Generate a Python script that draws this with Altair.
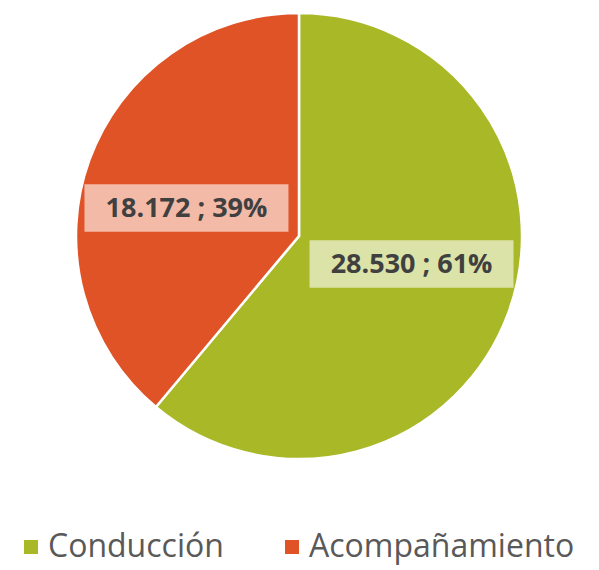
import math
import altair as alt
import pandas as pd

categories = ["Conducción", "Acompañamiento"]
values = [28530, 18172]
labels = ["28.530 ; 61%", "18.172 ; 39%"]
colors = ["#A8B827", "#E05327"]

total = sum(values)
rows = []
cum = 0
for cat, val, lab in zip(categories, values, labels):
    mid = (cum + val / 2) / total * 2 * math.pi - math.radians(6)
    cum += val
    rows.append({
        "cat": cat,
        "value": val,
        "label": lab,
        "order": len(rows),
        "lx": 0.52 * math.sin(mid),
        "ly": 0.52 * math.cos(mid),
    })
df = pd.DataFrame(rows)

W, H, R = 582, 456, 223
xs = alt.Scale(domain=[-1, 1], range=[W / 2 - R, W / 2 + R])
ys = alt.Scale(domain=[-1, 1], range=[H / 2 + R, H / 2 - R])

base = alt.Chart(df)

arcs = base.mark_arc(outerRadius=R, stroke="white", strokeWidth=2.5).encode(
    theta=alt.Theta("value:Q", stack=True),
    order=alt.Order("order:Q"),
    color=alt.Color(
        "cat:N",
        scale=alt.Scale(domain=categories, range=colors),
        sort=categories,
        legend=alt.Legend(
            title=None,
            orient="none",
            direction="horizontal",
            legendX=7,
            legendY=523,
            symbolType="square",
            symbolSize=196,
            symbolStrokeWidth=0,
            labelFont="Open Sans",
            labelFontSize=32,
            labelColor="#595959",
            labelOffset=1,
            labelLimit=500,
            columnPadding=52,
            symbolOpacity=1,
        ),
    ),
)

box_path = "M-1,-0.232 H1 V0.232 H-1 Z"
boxes = base.mark_point(
    shape=box_path, size=204 * 204, filled=True, fill="white", opacity=0.6, strokeWidth=0
).encode(
    x=alt.X("lx:Q", scale=xs, axis=None),
    y=alt.Y("ly:Q", scale=ys, axis=None),
)

texts = base.mark_text(
    font="Open Sans", fontSize=27, fontWeight="bold", color="#404040", dy=1
).encode(
    x=alt.X("lx:Q", scale=xs, axis=None),
    y=alt.Y("ly:Q", scale=ys, axis=None),
    text="label:N",
)

chart = (
    alt.layer(arcs, boxes, texts)
    .properties(
        width=W,
        height=H,
        autosize=alt.AutoSizeParams(type="none"),
        padding={"left": 0, "top": 0, "right": 0, "bottom": 104},
    )
    .configure_view(stroke=None)
)

chart.save("out.html", embed_options={"renderer": "svg", "actions": False})
